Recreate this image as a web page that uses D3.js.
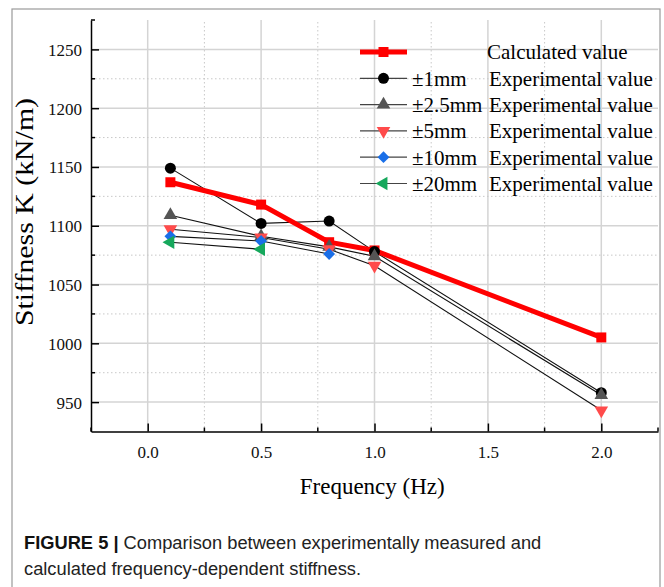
<!DOCTYPE html>
<html>
<head>
<meta charset="utf-8">
<script src="https://cdn.jsdelivr.net/npm/d3@7"></script>
<style>
  body { margin: 0; background: #fff; }
  svg { display: block; }
</style>
</head>
<body>
<svg id="chart" width="664" height="587"></svg>
<script>
// frequencies (Hz)
const freqs = [0.1, 0.5, 0.8, 1.0, 2.0];

// stiffness K (kN/m), null = not measured
const calcValues = [1137, 1118, 1086, 1079, 1005];
const exp1mm   = [1149, 1102, 1104, 1078, 958];
const exp2_5mm = [1109, 1091, 1082, 1074, 956];
const exp5mm   = [1097, 1090, 1080, 1066, 943];
const exp10mm  = [1091, 1087, 1076, null, null];
const exp20mm  = [1086, 1080, null, null, null];

const seriesNames = ["±1mm", "±2.5mm", "±5mm", "±10mm", "±20mm"];
const yTicks = [950, 1000, 1050, 1100, 1150, 1200, 1250];
const xTicks = [0.0, 0.5, 1.0, 1.5, 2.0];

const expSeries = [
    {name: seriesNames[0], values: exp1mm,   symbol: d3.symbolCircle,   size: 95, rot: 0,   color: "#000000"},
    {name: seriesNames[1], values: exp2_5mm, symbol: d3.symbolTriangle, size: 80, rot: 0,   color: "#555555"},
    {name: seriesNames[2], values: exp5mm,   symbol: d3.symbolTriangle, size: 80, rot: 180, color: "#ff4b4b"},
    {name: seriesNames[3], values: exp10mm,  symbol: d3.symbolSquare,   size: 70, rot: 45,  color: "#1a6fe8"},
    {name: seriesNames[4], values: exp20mm,  symbol: d3.symbolTriangle, size: 80, rot: -90, color: "#16a85c"}
];

const svg = d3.select("#chart");
const serif = "'Liberation Serif', 'Times New Roman', serif";

// outer frame
svg.append("rect")
    .attr("x", 12).attr("y", 9)
    .attr("width", 648).attr("height", 600)
    .attr("fill", "none")
    .attr("stroke", "#9a9a9a")
    .attr("stroke-width", 1.2);

const x = d3.scaleLinear().domain([-0.25, 2.25]).range([91, 658]);
const y = d3.scaleLinear().domain([925, 1275]).range([431.5, 20]);

const plot = svg.append("g");

// grid lines
const xMinor = d3.range(-0.25, 2.26, 0.5);
const yMinor = d3.range(975, 1276, 50);

plot.selectAll(".gx").data(xTicks).join("line")
    .attr("x1", d => x(d)).attr("x2", d => x(d))
    .attr("y1", y(925)).attr("y2", y(1275))
    .attr("stroke", "#d4d4d4").attr("stroke-width", 1.5);
plot.selectAll(".gxm").data(xMinor.slice(1, -1)).join("line")
    .attr("x1", d => x(d)).attr("x2", d => x(d))
    .attr("y1", y(925)).attr("y2", y(1275))
    .attr("stroke", "#c8c8c8").attr("stroke-width", 1)
    .attr("stroke-dasharray", "1.5,2.5");
plot.selectAll(".gy").data(yTicks).join("line")
    .attr("x1", x(-0.25)).attr("x2", x(2.25))
    .attr("y1", d => y(d)).attr("y2", d => y(d))
    .attr("stroke", "#d4d4d4").attr("stroke-width", 1.5);
plot.selectAll(".gym").data(yMinor.slice(0, -1)).join("line")
    .attr("x1", x(-0.25)).attr("x2", x(2.25))
    .attr("y1", d => y(d)).attr("y2", d => y(d))
    .attr("stroke", "#c8c8c8").attr("stroke-width", 1)
    .attr("stroke-dasharray", "1.5,2.5");

// axes
const xAxis = d3.axisBottom(x).tickValues(xTicks).tickFormat(d3.format(".1f")).tickSizeInner(-8).tickSizeOuter(0);
const yAxis = d3.axisLeft(y).tickValues(yTicks).tickFormat(d3.format("d")).tickSizeInner(-8).tickSizeOuter(0);

const gx = svg.append("g").attr("transform", `translate(0,${y(925)})`).call(xAxis);
const gy = svg.append("g").attr("transform", `translate(${x(-0.25)},0)`).call(yAxis);

[gx, gy].forEach(g => {
    g.select(".domain").attr("stroke", "#000").attr("stroke-width", 1.5);
    g.selectAll(".tick line").attr("stroke", "#000").attr("stroke-width", 1.5);
    g.selectAll(".tick text").attr("font-family", serif).attr("font-size", 17).attr("fill", "#111");
});
gx.selectAll(".tick text").attr("dy", "1.4em");
gy.selectAll(".tick text").attr("x", -9).attr("dy", "0.35em");

// minor ticks
gx.selectAll(".minor").data(xMinor).join("line")
    .attr("x1", d => x(d)).attr("x2", d => x(d))
    .attr("y1", 0).attr("y2", -4)
    .attr("stroke", "#000").attr("stroke-width", 1.5);
gy.selectAll(".minor").data(yMinor).join("line")
    .attr("y1", d => y(d)).attr("y2", d => y(d))
    .attr("x1", 0).attr("x2", 4)
    .attr("stroke", "#000").attr("stroke-width", 1.5);

// axis titles
svg.append("text")
    .attr("x", x(0.99)).attr("y", 494)
    .attr("text-anchor", "middle")
    .attr("font-family", serif).attr("font-size", 23)
    .text("Frequency (Hz)");
svg.append("text")
    .attr("transform", `translate(33,212) rotate(-90)`)
    .attr("text-anchor", "middle")
    .attr("font-family", serif).attr("font-size", 25)
    .attr("textLength", 228).attr("lengthAdjust", "spacingAndGlyphs")
    .text("Stiffness K (kN/m)");

// lines
const line = d3.line()
    .defined(d => d[1] !== null)
    .x(d => x(d[0]))
    .y(d => y(d[1]));

const pairs = vals => freqs.map((f, i) => [f, vals[i]]);

expSeries.forEach(s => {
    plot.append("path")
        .datum(pairs(s.values))
        .attr("d", line)
        .attr("fill", "none")
        .attr("stroke", "#111")
        .attr("stroke-width", 1.1);
});

plot.append("path")
    .datum(pairs(calcValues))
    .attr("d", line)
    .attr("fill", "none")
    .attr("stroke", "#ff0000")
    .attr("stroke-width", 5);

// markers
plot.selectAll(".calc").data(pairs(calcValues)).join("rect")
    .attr("x", d => x(d[0]) - 5).attr("y", d => y(d[1]) - 5)
    .attr("width", 10).attr("height", 10)
    .attr("fill", "#ff0000");

expSeries.forEach(s => {
    plot.append("g").selectAll("path")
        .data(pairs(s.values).filter(d => d[1] !== null))
        .join("path")
        .attr("d", d3.symbol().type(s.symbol).size(s.size))
        .attr("transform", d => `translate(${x(d[0])},${y(d[1])}) rotate(${s.rot})`)
        .attr("fill", s.color);
});

// legend
const legend = svg.append("g");
const rowY = i => 52 + i * 26.3;
const lx0 = 360, lx1 = 407, lmid = 383.5;

legend.append("line")
    .attr("x1", lx0).attr("x2", lx1)
    .attr("y1", rowY(0)).attr("y2", rowY(0))
    .attr("stroke", "#ff0000").attr("stroke-width", 5);
legend.append("rect")
    .attr("x", lmid - 5).attr("y", rowY(0) - 5)
    .attr("width", 10).attr("height", 10)
    .attr("fill", "#ff0000");
legend.append("text")
    .attr("x", 487).attr("y", rowY(0)).attr("dy", "0.35em")
    .attr("font-family", serif).attr("font-size", 21)
    .text("Calculated value");

expSeries.forEach((s, i) => {
    const ry = rowY(i + 1);
    legend.append("line")
        .attr("x1", lx0).attr("x2", lx1)
        .attr("y1", ry).attr("y2", ry)
        .attr("stroke", "#444").attr("stroke-width", 1.2);
    legend.append("path")
        .attr("d", d3.symbol().type(s.symbol).size(s.size))
        .attr("transform", `translate(${lmid},${ry}) rotate(${s.rot})`)
        .attr("fill", s.color);
    legend.append("text")
        .attr("x", 412).attr("y", ry).attr("dy", "0.35em")
        .attr("font-family", serif).attr("font-size", 21)
        .text(s.name);
    legend.append("text")
        .attr("x", 489).attr("y", ry).attr("dy", "0.35em")
        .attr("font-family", serif).attr("font-size", 21)
        .text("Experimental value");
});

// caption
const cap = svg.append("g")
    .attr("font-family", "'Liberation Sans', Arial, sans-serif")
    .attr("font-size", 18.3)
    .attr("fill", "#222");
const c1 = cap.append("text").attr("x", 24).attr("y", 549);
c1.append("tspan").attr("font-weight", "bold").attr("fill", "#111").text("FIGURE 5 | ");
c1.append("tspan").text("Comparison between experimentally measured and");
cap.append("text").attr("x", 24).attr("y", 575)
    .text("calculated frequency-dependent stiffness.");
</script>
</body>
</html>
